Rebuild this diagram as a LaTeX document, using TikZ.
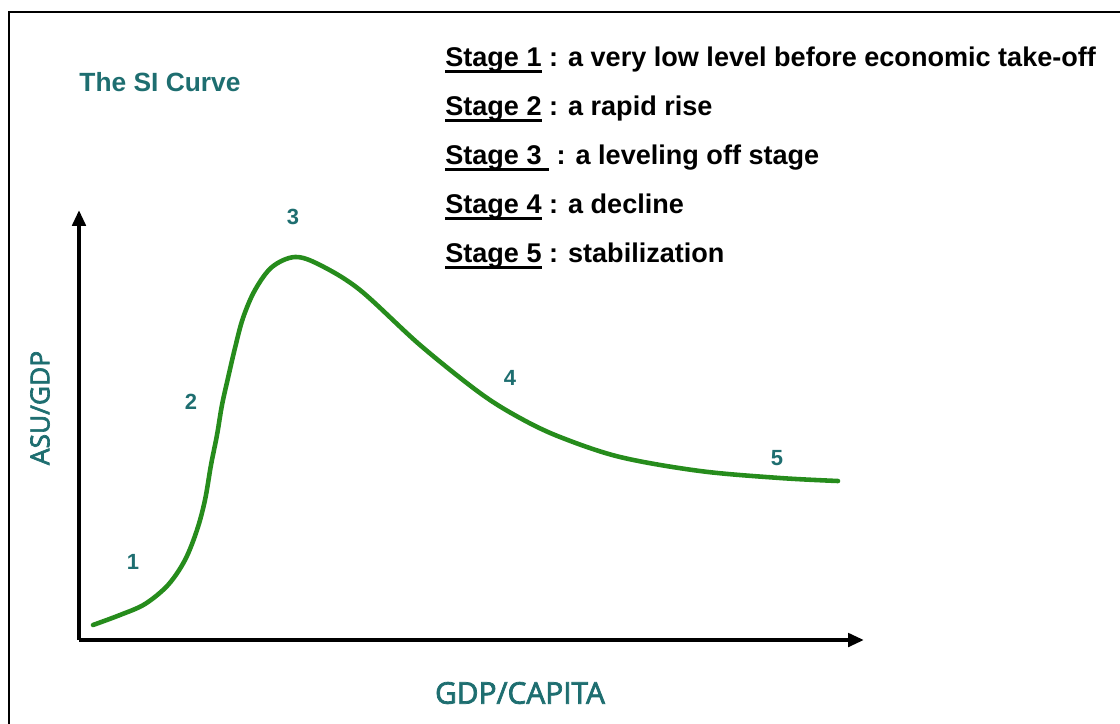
\documentclass[tikz,border=0pt]{standalone}
\usepackage{fontspec}
\setmainfont{Liberation Sans}
\newfontfamily\axisfont[FakeBold=2.5]{Open Sans}
\usepackage{tikz}
\usetikzlibrary{arrows.meta,positioning}
\definecolor{siteal}{RGB}{30,110,112}
\definecolor{sigreen}{RGB}{38,140,28}
\newcommand{\stagemark}[1]{\setbox0\hbox{#1}\rlap{\rule[-4pt]{\wd0}{1.6pt}}\box0\relax}

\begin{document}
\begin{tikzpicture}[x=0.02cm,y=-0.02cm,
	stagetext/.style={anchor=base west,inner sep=0pt,font=\bfseries\fontsize{15.4}{18}\selectfont},
	stagenum/.style={inner sep=0pt,text=siteal,font=\bfseries\fontsize{12.5}{15}\selectfont},
	axislabel/.style={inner sep=0pt,text=siteal,font=\axisfont},
	axis/.style={line width=2.6pt,-{Triangle[length=9pt,width=7.5pt]}}]
	\useasboundingbox (0,0) rectangle (1120,724);

	% Frame
	\coordinate (fbl) at (9,724);
	\coordinate (ftl) at (9,12);
	\coordinate (ftr) at (1120,12);
	\draw[line width=1.5pt] (fbl) -- (ftl) -- (ftr);

	\node (title) [inner sep=0pt,text=siteal,font=\bfseries\fontsize{15}{18}\selectfont] at (160,82) {The SI Curve};

	% Stage descriptions
	\node (st1) [stagetext] at (445,66) {\stagemark{Stage 1} : a very low level before economic take-off};
	\node (st2) [stagetext] at (445,115) {\stagemark{Stage 2} : a rapid rise};
	\node (st3) [stagetext] at (445,164) {\stagemark{Stage 3\ } : a leveling off stage};
	\node (st4) [stagetext] at (445,213) {\stagemark{Stage 4} : a decline};
	\node (st5) [stagetext] at (445,262) {\stagemark{Stage 5} : stabilization};

	% Axes
	\coordinate (origin) at (79,640);
	\coordinate (ytip) at (79,210);
	\coordinate (xtip) at (864,640);
	\draw[axis] (origin) -- (ytip);
	\draw[axis] (origin) -- (xtip);
	\node (ylab) [axislabel,rotate=90,font=\axisfont\fontsize{15}{18}\selectfont] at (40,408) {ASU/GDP};
	\node (xlab) [axislabel,font=\axisfont\fontsize{17}{20}\selectfont] at (520,693) {GDP/CAPITA};

	% The curve
	\draw[sigreen,line width=2.6pt,line cap=round] plot[smooth,tension=0.55] coordinates {
		(93,625) (120,615) (145,604) (168,585) (185,560) (197,530) (205,500)
		(211,465) (217,435) (222,405) (228,378) (235,348) (243,318) (255,290)
		(272,267) (295,257) (320,265) (360,290) (420,345) (480,393) (520,418)
		(560,437) (620,457) (700,471) (780,478) (838,481)};

	% Stage numbers along the curve
	\node (n1) [stagenum] at (133,562) {1};
	\node (n2) [stagenum] at (191,402) {2};
	\node (n3) [stagenum] at (293,217) {3};
	\node (n4) [stagenum] at (510,378) {4};
	\node (n5) [stagenum] at (777,458) {5};
\end{tikzpicture}
\end{document}
